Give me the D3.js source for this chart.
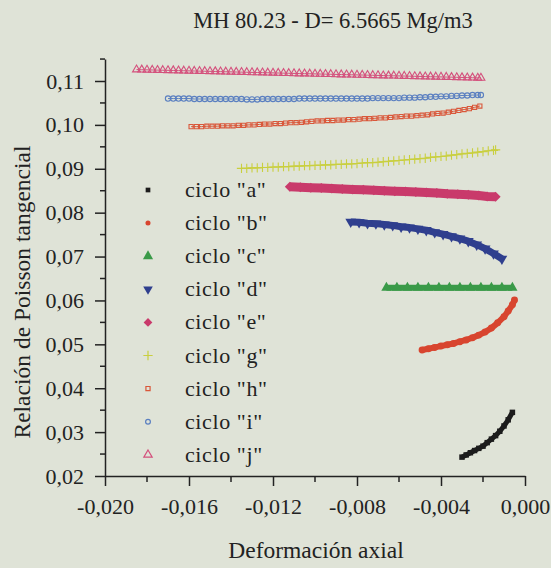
<!DOCTYPE html>
<html>
<head>
<meta charset="utf-8">
<script src="https://cdn.jsdelivr.net/npm/d3@7"></script>
<style>
body { margin: 0; background: #dfe3d7; }
svg { display: block; font-family: "Liberation Serif", "Times New Roman", serif; }
</style>
</head>
<body>
<svg id="chart" width="551" height="568"></svg>
<script>
const TITLE = "MH 80.23 - D= 6.5665 Mg/m3"
const X_LABEL = "Deformación axial"
const Y_LABEL = "Relación de Poisson tangencial"

const X_TICKS = [-0.020, -0.016, -0.012, -0.008, -0.004, 0.000]
const Y_TICKS = [0.02, 0.03, 0.04, 0.05, 0.06, 0.07, 0.08, 0.09, 0.10, 0.11]

const NAMES = ['ciclo "a"', 'ciclo "b"', 'ciclo "c"', 'ciclo "d"', 'ciclo "e"', 'ciclo "g"', 'ciclo "h"', 'ciclo "i"', 'ciclo "j"']

// [deformacion, poisson]
const cicloA = [[-0.0030,0.0243],[-0.0028,0.0248],[-0.0026,0.0253],[-0.0024,0.0258],[-0.0022,0.0263],[-0.0020,0.0268],[-0.0018,0.0276],[-0.0016,0.0284],[-0.0014,0.0292],[-0.0012,0.0302],[-0.0010,0.0314],[-0.0008,0.0328],[-0.0006,0.0345]]
const cicloB = [[-0.0049,0.0487],[-0.0046,0.0490],[-0.0043,0.0493],[-0.0040,0.0496],[-0.0037,0.0499],[-0.0034,0.0502],[-0.0031,0.0506],[-0.0028,0.0510],[-0.0025,0.0515],[-0.0022,0.0521],[-0.0019,0.0528],[-0.0016,0.0537],[-0.0013,0.0549],[-0.0010,0.0563],[-0.0008,0.0576],[-0.0006,0.0590],[-0.0005,0.0601]]
const cicloC = [[-0.0066,0.0629],[-0.0061,0.0629],[-0.0056,0.0629],[-0.0051,0.0629],[-0.0046,0.0629],[-0.0041,0.0629],[-0.0036,0.0629],[-0.0031,0.0629],[-0.0026,0.0629],[-0.0021,0.0629],[-0.0016,0.0629],[-0.0011,0.0629],[-0.0006,0.0629]]
const cicloD = [[-0.0083,0.0779],[-0.0079,0.0778],[-0.0075,0.0776],[-0.0071,0.0775],[-0.0067,0.0773],[-0.0063,0.0771],[-0.0059,0.0768],[-0.0055,0.0766],[-0.0051,0.0763],[-0.0047,0.0760],[-0.0043,0.0755],[-0.0039,0.0751],[-0.0035,0.0746],[-0.0031,0.0741],[-0.0027,0.0735],[-0.0023,0.0727],[-0.0019,0.0718],[-0.0015,0.0707],[-0.0011,0.0695]]
const cicloE = [[-0.0112,0.0859],[-0.0107,0.0858],[-0.0102,0.0857],[-0.0097,0.0856],[-0.0092,0.0855],[-0.0087,0.0854],[-0.0082,0.0853],[-0.0077,0.0852],[-0.0072,0.0851],[-0.0067,0.0850],[-0.0062,0.0849],[-0.0057,0.0848],[-0.0052,0.0847],[-0.0047,0.0846],[-0.0042,0.0845],[-0.0037,0.0843],[-0.0032,0.0842],[-0.0027,0.0841],[-0.0022,0.0839],[-0.0018,0.0837],[-0.0014,0.0836]]
const cicloG = [[-0.01350,0.0901],[-0.01325,0.0901],[-0.01300,0.0902],[-0.01275,0.0902],[-0.01250,0.0903],[-0.01225,0.0903],[-0.01200,0.0904],[-0.01175,0.0904],[-0.01150,0.0905],[-0.01125,0.0905],[-0.01100,0.0906],[-0.01075,0.0906],[-0.01050,0.0907],[-0.01025,0.0907],[-0.01000,0.0908],[-0.00975,0.0908],[-0.00950,0.0909],[-0.00925,0.0909],[-0.00900,0.0910],[-0.00875,0.0910],[-0.00850,0.0911],[-0.00825,0.0911],[-0.00800,0.0912],[-0.00775,0.0913],[-0.00750,0.0914],[-0.00725,0.0914],[-0.00700,0.0915],[-0.00675,0.0916],[-0.00650,0.0917],[-0.00625,0.0918],[-0.00600,0.0919],[-0.00575,0.0920],[-0.00550,0.0921],[-0.00525,0.0922],[-0.00500,0.0923],[-0.00475,0.0924],[-0.00450,0.0926],[-0.00425,0.0927],[-0.00400,0.0928],[-0.00375,0.0929],[-0.00350,0.0931],[-0.00325,0.0932],[-0.00300,0.0934],[-0.00275,0.0935],[-0.00250,0.0936],[-0.00225,0.0938],[-0.00200,0.0939],[-0.00175,0.0941],[-0.00150,0.0942],[-0.00140,0.0943]]
const cicloH = [[-0.01590,0.0996],[-0.01565,0.0996],[-0.01540,0.0996],[-0.01515,0.0997],[-0.01490,0.0997],[-0.01465,0.0997],[-0.01440,0.0998],[-0.01415,0.0998],[-0.01390,0.0998],[-0.01365,0.0999],[-0.01340,0.0999],[-0.01315,0.1000],[-0.01290,0.1000],[-0.01265,0.1001],[-0.01240,0.1002],[-0.01215,0.1002],[-0.01190,0.1003],[-0.01165,0.1003],[-0.01140,0.1004],[-0.01115,0.1005],[-0.01090,0.1005],[-0.01065,0.1006],[-0.01040,0.1007],[-0.01015,0.1008],[-0.00990,0.1009],[-0.00965,0.1009],[-0.00940,0.1010],[-0.00915,0.1010],[-0.00890,0.1011],[-0.00865,0.1011],[-0.00840,0.1012],[-0.00815,0.1012],[-0.00790,0.1013],[-0.00765,0.1014],[-0.00740,0.1014],[-0.00715,0.1015],[-0.00690,0.1016],[-0.00665,0.1016],[-0.00640,0.1017],[-0.00615,0.1018],[-0.00590,0.1019],[-0.00565,0.1020],[-0.00540,0.1020],[-0.00515,0.1021],[-0.00490,0.1022],[-0.00465,0.1023],[-0.00440,0.1025],[-0.00415,0.1026],[-0.00390,0.1027],[-0.00365,0.1029],[-0.00340,0.1031],[-0.00315,0.1033],[-0.00290,0.1035],[-0.00265,0.1037],[-0.00240,0.1040],[-0.00215,0.1043]]
const cicloI = [[-0.01700,0.1060],[-0.01675,0.1060],[-0.01650,0.1060],[-0.01625,0.1060],[-0.01600,0.1060],[-0.01575,0.1059],[-0.01550,0.1059],[-0.01525,0.1059],[-0.01500,0.1059],[-0.01475,0.1059],[-0.01450,0.1059],[-0.01425,0.1059],[-0.01400,0.1059],[-0.01375,0.1059],[-0.01350,0.1059],[-0.01325,0.1058],[-0.01300,0.1058],[-0.01275,0.1058],[-0.01250,0.1059],[-0.01225,0.1059],[-0.01200,0.1059],[-0.01175,0.1059],[-0.01150,0.1059],[-0.01125,0.1059],[-0.01100,0.1059],[-0.01075,0.1060],[-0.01050,0.1060],[-0.01025,0.1060],[-0.01000,0.1060],[-0.00975,0.1060],[-0.00950,0.1060],[-0.00925,0.1060],[-0.00900,0.1060],[-0.00875,0.1060],[-0.00850,0.1060],[-0.00825,0.1060],[-0.00800,0.1060],[-0.00775,0.1060],[-0.00750,0.1060],[-0.00725,0.1061],[-0.00700,0.1061],[-0.00675,0.1061],[-0.00650,0.1061],[-0.00625,0.1061],[-0.00600,0.1061],[-0.00575,0.1062],[-0.00550,0.1062],[-0.00525,0.1062],[-0.00500,0.1063],[-0.00475,0.1063],[-0.00450,0.1064],[-0.00425,0.1064],[-0.00400,0.1065],[-0.00375,0.1065],[-0.00350,0.1066],[-0.00325,0.1066],[-0.00300,0.1067],[-0.00275,0.1067],[-0.00250,0.1068],[-0.00225,0.1068],[-0.00210,0.1068]]
const cicloJ = [[-0.01850,0.11260],[-0.01825,0.11257],[-0.01800,0.11254],[-0.01775,0.11251],[-0.01750,0.11248],[-0.01725,0.11245],[-0.01700,0.11243],[-0.01675,0.11240],[-0.01650,0.11237],[-0.01625,0.11234],[-0.01600,0.11231],[-0.01575,0.11228],[-0.01550,0.11225],[-0.01525,0.11222],[-0.01500,0.11220],[-0.01475,0.11217],[-0.01450,0.11214],[-0.01425,0.11211],[-0.01400,0.11208],[-0.01375,0.11205],[-0.01350,0.11202],[-0.01325,0.11199],[-0.01300,0.11196],[-0.01275,0.11194],[-0.01250,0.11191],[-0.01225,0.11188],[-0.01200,0.11185],[-0.01175,0.11182],[-0.01150,0.11179],[-0.01125,0.11176],[-0.01100,0.11173],[-0.01075,0.11170],[-0.01050,0.11168],[-0.01025,0.11165],[-0.01000,0.11162],[-0.00975,0.11159],[-0.00950,0.11156],[-0.00925,0.11153],[-0.00900,0.11150],[-0.00875,0.11147],[-0.00850,0.11145],[-0.00825,0.11142],[-0.00800,0.11139],[-0.00775,0.11136],[-0.00750,0.11133],[-0.00725,0.11130],[-0.00700,0.11127],[-0.00675,0.11124],[-0.00650,0.11121],[-0.00625,0.11119],[-0.00600,0.11116],[-0.00575,0.11113],[-0.00550,0.11110],[-0.00525,0.11107],[-0.00500,0.11104],[-0.00475,0.11101],[-0.00450,0.11098],[-0.00425,0.11096],[-0.00400,0.11093],[-0.00375,0.11090],[-0.00350,0.11087],[-0.00325,0.11084],[-0.00300,0.11081],[-0.00275,0.11078],[-0.00250,0.11075],[-0.00225,0.11072],[-0.00210,0.11070]]

const DATA = [cicloA, cicloB, cicloC, cicloD, cicloE, cicloG, cicloH, cicloI, cicloJ]

// marker styles per series
const STYLES = [
    {sym: d3.symbolSquare, rot: 0, fill: true, color: "#1c1c1c", size: 30, leg: 22, band: 5},
    {sym: d3.symbolCircle, rot: 0, fill: true, color: "#d8452f", size: 38, leg: 20, band: 6},
    {sym: d3.symbolTriangle, rot: 0, fill: true, color: "#3a9a48", size: 45, leg: 45, band: 6},
    {sym: d3.symbolTriangle, rot: 180, fill: true, color: "#2f3f8e", size: 50, leg: 40, band: 7},
    {sym: d3.symbolSquare, rot: 45, fill: true, color: "#c93a6b", size: 50, leg: 38, band: 9},
    {sym: d3.symbolPlus, rot: 0, fill: false, color: "#c9cf3e", size: 30, leg: 30, band: 1},
    {sym: d3.symbolSquare2, rot: 0, fill: false, color: "#d9573a", size: 22, leg: 22, band: 1},
    {sym: d3.symbolCircle, rot: 0, fill: false, color: "#5a7fc0", size: 22, leg: 18, band: 1},
    {sym: d3.symbolTriangle2, rot: 0, fill: false, color: "#d4507c", size: 45, leg: 50, band: 1}
]

const INK = "#222"
const svg = d3.select("#chart")

const x = d3.scaleLinear().domain([-0.020, 0.000]).range([105, 525])
const y = d3.scaleLinear().domain([0.02, 0.11]).range([476, 81])
const yTop = 0.115

const fmt = d3.format(".2f"), fmtX = d3.format(".3f")
const comma = s => s.replace(".", ",").replace("−", "-")

function styleAxis(g) {
    g.attr("font-family", null).attr("font-size", 22)
    g.selectAll("text").attr("fill", INK)
    g.selectAll("line,path").attr("stroke", INK).attr("stroke-width", 1.5)
}

// x axis
svg.append("g")
    .attr("transform", "translate(0,476)")
    .call(d3.axisBottom(x).tickValues(X_TICKS).tickSize(10).tickSizeOuter(0).tickPadding(12)
        .tickFormat(d => comma(fmtX(d))))
    .call(styleAxis)

svg.append("g")
    .attr("transform", "translate(0,476)")
    .selectAll("line")
    .data(d3.range(-0.018, 0, 0.004))
    .join("line")
    .attr("x1", d => x(d)).attr("x2", d => x(d))
    .attr("y1", 0).attr("y2", 6)
    .attr("stroke", INK).attr("stroke-width", 1.5)

// y axis
const yAxisScale = y.copy().domain([0.02, yTop]).range([476, y(yTop)])
svg.append("g")
    .attr("transform", "translate(105,0)")
    .call(d3.axisLeft(yAxisScale).tickValues(Y_TICKS).tickSize(10).tickSizeOuter(0).tickPadding(11)
        .tickFormat(d => comma(fmt(d))))
    .call(styleAxis)

svg.append("g")
    .attr("transform", "translate(105,0)")
    .selectAll("line")
    .data(d3.range(0.025, yTop + 0.001, 0.01))
    .join("line")
    .attr("y1", d => y(d)).attr("y2", d => y(d))
    .attr("x1", 0).attr("x2", -5)
    .attr("stroke", INK).attr("stroke-width", 1.5)

// series
const line = d3.line().x(d => x(d[0])).y(d => y(d[1]))
DATA.forEach((pts, i) => {
    const s = STYLES[i]
    const g = svg.append("g")
    g.append("path")
        .attr("d", line(pts))
        .attr("fill", "none")
        .attr("stroke", s.color)
        .attr("stroke-width", s.band)
        .attr("stroke-linejoin", "round")
    g.selectAll("path.pt")
        .data(pts)
        .join("path")
        .attr("class", "pt")
        .attr("transform", d => `translate(${x(d[0])},${y(d[1])}) rotate(${s.rot})`)
        .attr("d", d3.symbol(s.sym, s.size))
        .attr("fill", s.fill ? s.color : "none")
        .attr("stroke", s.color)
        .attr("stroke-width", s.fill ? 0 : 1.1)
})

// legend
const leg = svg.append("g")
NAMES.forEach((name, i) => {
    const s = STYLES[i]
    const cy = 190 + i * 33.1
    leg.append("path")
        .attr("transform", `translate(148,${cy}) rotate(${s.rot})`)
        .attr("d", d3.symbol(s.sym, s.leg))
        .attr("fill", s.fill ? s.color : "none")
        .attr("stroke", s.color)
        .attr("stroke-width", s.fill ? 0 : 1.2)
    leg.append("text")
        .attr("x", 185).attr("y", cy + 7)
        .attr("font-size", 22)
        .attr("letter-spacing", 0.6)
        .attr("fill", INK)
        .text(name)
})

// titles
svg.append("text")
    .attr("x", 333).attr("y", 28)
    .attr("text-anchor", "middle")
    .attr("font-size", 22.5)
    .attr("fill", INK)
    .text(TITLE)

svg.append("text")
    .attr("x", 316).attr("y", 558)
    .attr("text-anchor", "middle")
    .attr("font-size", 23.5)
    .attr("fill", INK)
    .text(X_LABEL)

svg.append("text")
    .attr("transform", "translate(30,292) rotate(-90)")
    .attr("text-anchor", "middle")
    .attr("font-size", 23.5)
    .attr("fill", INK)
    .text(Y_LABEL)
</script>
</body>
</html>
